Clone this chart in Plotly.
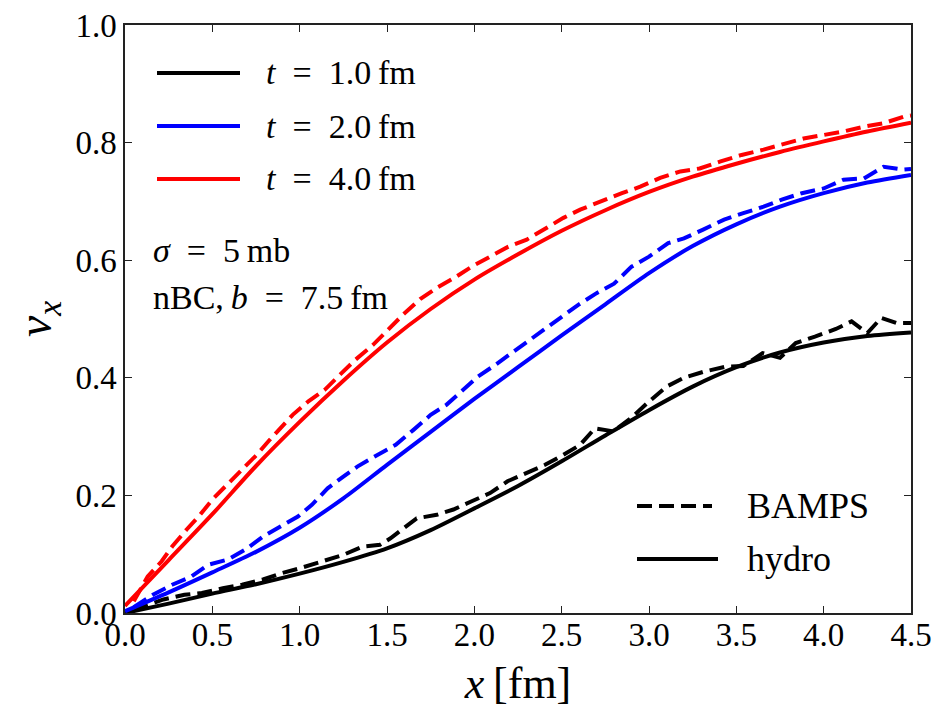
import plotly.graph_objects as go

# ---------------- data ----------------
hydro_x = [0.0, 0.25, 0.5, 0.75, 1.0, 1.25, 1.5, 1.75, 2.0, 2.25, 2.5, 2.75, 3.0,
           3.25, 3.5, 3.75, 4.0, 4.25, 4.5]
hydro_t1 = [0.0, 0.016, 0.033, 0.049, 0.067, 0.087, 0.110, 0.141, 0.178, 0.216, 0.258,
            0.302, 0.345, 0.385, 0.418, 0.443, 0.460, 0.471, 0.477]
hydro_t2 = [0.003, 0.035, 0.069, 0.104, 0.145, 0.195, 0.252, 0.308, 0.364, 0.418, 0.472,
            0.525, 0.578, 0.624, 0.661, 0.691, 0.714, 0.732, 0.745]
hydro_t4 = [0.012, 0.090, 0.168, 0.250, 0.325, 0.395, 0.460, 0.517, 0.567, 0.610, 0.650,
            0.685, 0.716, 0.742, 0.764, 0.784, 0.802, 0.819, 0.834]

bamps_t1_x = [0.05, 0.15, 0.22, 0.34, 0.44, 0.56, 0.67, 0.79, 0.9, 1.0, 1.14, 1.25, 1.36,
              1.46, 1.52, 1.67, 1.785, 1.88, 1.985, 2.09, 2.19, 2.30, 2.405, 2.51, 2.606,
              2.69, 2.795, 2.90, 2.99, 3.10, 3.20, 3.31, 3.44, 3.54, 3.65, 3.75, 3.84,
              3.95, 4.07, 4.16, 4.25, 4.33, 4.42, 4.5]
bamps_t1_y = [0.005, 0.015, 0.023, 0.031, 0.034, 0.042, 0.048, 0.057, 0.068, 0.076, 0.088,
              0.099, 0.113, 0.116, 0.127, 0.161, 0.167, 0.176, 0.190, 0.204, 0.224, 0.238,
              0.252, 0.269, 0.286, 0.314, 0.309, 0.332, 0.357, 0.385, 0.400, 0.410, 0.419,
              0.420, 0.442, 0.434, 0.459, 0.470, 0.483, 0.496, 0.476, 0.502, 0.493, 0.493]

bamps_t2_x = [0.05, 0.16, 0.27, 0.38, 0.476, 0.59, 0.70, 0.79, 0.89, 0.99, 1.07, 1.16,
              1.25, 1.33, 1.44, 1.55, 1.65, 1.75, 1.84, 1.94, 2.02, 2.12, 2.215, 2.31,
              2.405, 2.50, 2.595, 2.70, 2.80, 2.90, 3.0, 3.11, 3.2, 3.31, 3.43, 3.54,
              3.656, 3.76, 3.875, 4.0, 4.114, 4.23, 4.343, 4.457, 4.5]
bamps_t2_y = [0.010, 0.031, 0.048, 0.062, 0.082, 0.091, 0.110, 0.130, 0.147, 0.164, 0.184,
              0.212, 0.232, 0.249, 0.268, 0.286, 0.311, 0.337, 0.354, 0.380, 0.402, 0.422,
              0.442, 0.462, 0.484, 0.502, 0.524, 0.544, 0.560, 0.589, 0.606, 0.629, 0.637,
              0.652, 0.669, 0.680, 0.691, 0.703, 0.714, 0.722, 0.737, 0.739, 0.759, 0.754,
              0.755]

bamps_t4_x = [0.05, 0.13, 0.21, 0.27, 0.353, 0.43, 0.5, 0.582, 0.668, 0.754, 0.83, 0.907,
              0.96, 1.05, 1.145, 1.23, 1.32, 1.42, 1.50, 1.594, 1.69, 1.785, 1.88, 1.985,
              2.09, 2.195, 2.30, 2.405, 2.51, 2.606, 2.72, 2.845, 2.95, 3.064, 3.18, 3.29,
              3.41, 3.53, 3.656, 3.76, 3.885, 4.0, 4.114, 4.23, 4.343, 4.457, 4.5]
bamps_t4_y = [0.020, 0.062, 0.088, 0.113, 0.142, 0.167, 0.193, 0.218, 0.244, 0.269, 0.295,
              0.320, 0.337, 0.360, 0.380, 0.405, 0.431, 0.456, 0.480, 0.508, 0.534, 0.553,
              0.569, 0.589, 0.606, 0.623, 0.635, 0.654, 0.672, 0.686, 0.700, 0.714, 0.725,
              0.740, 0.751, 0.756, 0.768, 0.779, 0.788, 0.796, 0.807, 0.813, 0.819, 0.827,
              0.833, 0.844, 0.846]

times = ["1.0", "2.0", "4.0"]
colors = ["#000000", "#0000ff", "#ff0000"]
x_ticks = [0.0, 0.5, 1.0, 1.5, 2.0, 2.5, 3.0, 3.5, 4.0, 4.5]
y_ticks = [0.0, 0.2, 0.4, 0.6, 0.8, 1.0]

FONT = "Liberation Serif"
LW = 4
DASH = "15px,7px"
TXT = 34
SP = "\u2002"

fig = go.Figure()

hydro_sets = [hydro_t1, hydro_t2, hydro_t4]
bamps_sets = [(bamps_t1_x, bamps_t1_y), (bamps_t2_x, bamps_t2_y), (bamps_t4_x, bamps_t4_y)]

for t, c, hy, (bx, by) in zip(times, colors, hydro_sets, bamps_sets):
    fig.add_trace(go.Scatter(x=bx, y=by, mode="lines", name=f"BAMPS t={t} fm",
                             line=dict(color=c, width=LW, dash=DASH),
                             showlegend=False, hoverinfo="skip"))
    fig.add_trace(go.Scatter(x=hydro_x, y=hy, mode="lines", name=f"hydro t={t} fm",
                             line=dict(color=c, width=LW, shape="spline", smoothing=0.8),
                             showlegend=False, hoverinfo="skip"))

# ---------------- geometry ----------------
# the page body adds an 8px offset, so the figure is 8px smaller than the window
W, H = 933, 700
L, R, T, B = 117, 30, 17, 95
PLOT_LEFT, PLOT_TOP = 125, 25          # screen pixels of the plot area
pw, ph = W - L - R, H - T - B


def px2paper(px, py):
    return (px - PLOT_LEFT) / pw, 1 - (py - PLOT_TOP) / ph


shapes = []
annotations = []
leg_rows = [73, 126, 179]
for t, c, row in zip(times, colors, leg_rows):
    x0, y0 = px2paper(157, row)
    x1, _ = px2paper(240, row)
    shapes.append(dict(type="line", xref="paper", yref="paper", x0=x0, x1=x1, y0=y0, y1=y0,
                       line=dict(color=c, width=LW)))
    tx, ty = px2paper(264, row)
    annotations.append(dict(xref="paper", yref="paper", x=tx, y=ty, xanchor="left",
                            yanchor="middle", showarrow=False,
                            text=f"<i>t</i>{SP}={SP}{t}\u2009fm",
                            font=dict(family=FONT, size=TXT, color="black")))

# sigma and nBC text
for txt, row in [(f"<i>σ</i>{SP}={SP}5\u2009mb", 250),
                 (f"nBC,\u2009<i>b</i>{SP}={SP}7.5\u2009fm", 297)]:
    tx, ty = px2paper(151, row)
    annotations.append(dict(xref="paper", yref="paper", x=tx, y=ty, xanchor="left",
                            yanchor="middle", showarrow=False, text=txt,
                            font=dict(family=FONT, size=TXT, color="black")))

# BAMPS / hydro style legend
for lab, dash, row, xend in [("BAMPS", DASH, 506, 712), ("hydro", "solid", 559, 718)]:
    x0, y0 = px2paper(637, row)
    x1, _ = px2paper(xend, row)
    shapes.append(dict(type="line", xref="paper", yref="paper", x0=x0, x1=x1, y0=y0, y1=y0,
                       line=dict(color="black", width=LW, dash=dash)))
    tx, ty = px2paper(745, row)
    annotations.append(dict(xref="paper", yref="paper", x=tx, y=ty, xanchor="left",
                            yanchor="middle", showarrow=False, text=lab,
                            font=dict(family=FONT, size=TXT + 2, color="black")))

axis_common = dict(
    showgrid=False, zeroline=False, showline=True, linecolor="#222222", linewidth=1.5,
    mirror="ticks", ticks="inside", ticklen=7, tickwidth=1.2, tickcolor="#222222",
    tickfont=dict(family=FONT, size=33, color="black"), automargin=False,
    ticklabeloverflow="allow",
)

fig.update_layout(
    width=W, height=H,
    margin=dict(l=L, r=R, t=T, b=B, autoexpand=False),
    paper_bgcolor="white", plot_bgcolor="white",
    shapes=shapes, annotations=annotations,
    showlegend=False,
    xaxis=dict(range=[0, 4.5], tickvals=x_ticks,
               ticktext=[f"{v:.1f}" for v in x_ticks],
               ticklabelstandoff=-8,
               title=dict(text="<i>x</i>\u2009[fm]", font=dict(family=FONT, size=44, color="black"),
                          standoff=20),
               **axis_common),
    yaxis=dict(range=[0, 1.0], tickvals=y_ticks,
               ticktext=[f"{v:.1f}" for v in y_ticks],
               title=dict(text="<i>v<sub>x</sub></i>", font=dict(family=FONT, size=48, color="black"),
                          standoff=28),
               **axis_common),
)

fig.write_html("out.html")
